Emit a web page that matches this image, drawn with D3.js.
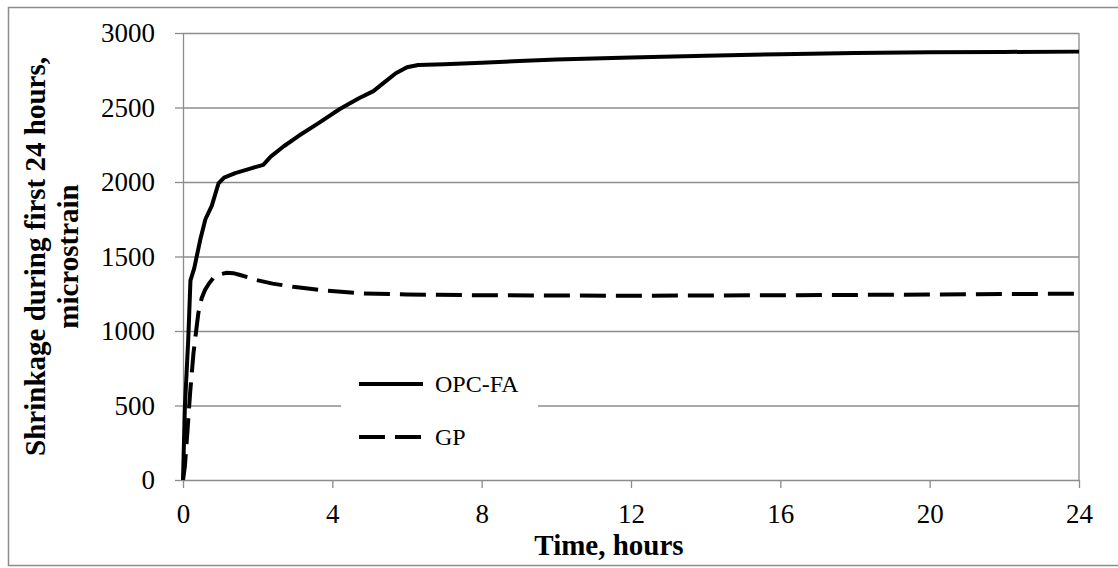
<!DOCTYPE html>
<meta charset="utf-8">
<html>
  <style>
    body, html{ margin: 0; background: #fff;}
    svg{ display: block; font-family: "Liberation Serif", "Times New Roman", serif;}
    .grid line{ stroke: #8c8c8c; stroke-width: 1.3;}
    .grid path{ display: none;}
    .axis path, .axis line{ stroke: #8c8c8c; stroke-width: 1.3;}
    .axis text{ font-family: "Liberation Serif", "Times New Roman", serif; font-size: 27px; fill: #000;}
    .title{ font-size: 29px; font-weight: bold; fill: #000;}
    .opc{ fill: none; stroke: #000; stroke-width: 4; stroke-linejoin: round;}
    .gp{ fill: none; stroke: #000; stroke-width: 4; stroke-dasharray: 26 10;}
    .legend text{ font-size: 24px; fill: #000;}
  </style>
  <body>
    <svg></svg>
    <script src="https://cdn.jsdelivr.net/npm/d3@7"></script>
    <script>
// values
var opcTime = [0, 0.05, 0.14, 0.2, 0.3, 0.46, 0.6, 0.77, 0.95, 1.1, 1.4, 1.8, 2.15, 2.35, 2.7, 3.1, 3.6,
               4.2, 4.7, 5.1, 5.4, 5.7, 6.0, 6.3, 7, 8, 9, 10, 12, 14, 16, 18, 20, 22, 24]
var opcShrink = [0, 490, 940, 1340, 1420, 1610, 1750, 1840, 1990, 2030, 2060, 2090, 2115, 2170, 2240, 2310, 2390,
                 2490, 2560, 2610, 2670, 2730, 2770, 2785, 2790, 2800, 2812, 2822, 2835, 2848, 2858, 2865, 2870, 2873, 2875]

var gpTime = [0, 0.05, 0.12, 0.19, 0.28, 0.41, 0.5, 0.59, 0.7, 0.81, 1.0, 1.17, 1.35, 1.53, 1.75, 1.97, 2.4,
              2.95, 3.4, 3.85, 4.74, 6, 8, 10, 12, 14, 16, 18, 20, 22, 24]
var gpShrink = [0, 90, 330, 583, 850, 1119, 1220, 1275, 1320, 1354, 1380, 1391, 1388, 1376, 1360, 1342, 1318,
                1297, 1283, 1271, 1253, 1245, 1240, 1238, 1237, 1238, 1240, 1242, 1245, 1248, 1250]

var xTicks = [0, 4, 8, 12, 16, 20, 24]
var yTicks = [0, 500, 1000, 1500, 2000, 2500, 3000]
var seriesNames = ['OPC-FA', 'GP']

var W = 1118, H = 568
  , pLeft = 183, pRight = 1079, pTop = 33, pBottom = 480
  , svg = d3.select('svg').attr('width', W).attr('height', H)

var x = d3.scaleLinear().domain([0, 24]).range([pLeft, pRight])
  , y = d3.scaleLinear().domain([0, 3000]).range([pBottom, pTop])

// outer frame
svg.append('rect')
  .attr('x', 8.5).attr('y', 7.5).attr('width', 1120).attr('height', 558)
  .attr('fill', 'none').attr('stroke', '#8c8c8c').attr('stroke-width', 1.5)

// horizontal gridlines
svg.append('g').attr('class', 'grid')
  .attr('transform', 'translate(' + pLeft + ',0)')
  .call(d3.axisLeft(y).tickValues(yTicks.slice(1)).tickSize(-(pRight - pLeft)).tickFormat(''))

// right border of the plot area
svg.append('line')
  .attr('x1', pRight).attr('x2', pRight).attr('y1', pTop).attr('y2', pBottom)
  .attr('stroke', '#8c8c8c').attr('stroke-width', 1.3)

svg.append('g').attr('class', 'axis')
  .attr('transform', 'translate(' + pLeft + ',0)')
  .call(d3.axisLeft(y).tickValues(yTicks).tickFormat(d3.format('d'))
    .tickSize(8).tickPadding(20).tickSizeOuter(0))

svg.append('g').attr('class', 'axis')
  .attr('transform', 'translate(0,' + pBottom + ')')
  .call(d3.axisBottom(x).tickValues(xTicks).tickFormat(d3.format('d'))
    .tickSize(8).tickPadding(16).tickSizeOuter(0))

var line = function(xs, ys){
  return d3.line().x(function(d, i){ return x(xs[i]) }).y(function(d, i){ return y(ys[i]) })(xs)
}

svg.append('path').attr('class', 'gp').attr('d', line(gpTime, gpShrink))
svg.append('path').attr('class', 'opc').attr('d', line(opcTime, opcShrink))

// legend
var legend = svg.append('g').attr('class', 'legend')
legend.append('rect').attr('x', 341).attr('y', 350).attr('width', 197).attr('height', 112).attr('fill', '#fff')
legend.append('line').attr('class', 'opc').attr('x1', 359).attr('x2', 423).attr('y1', 384).attr('y2', 384)
legend.append('line').attr('class', 'gp').attr('x1', 359).attr('x2', 423).attr('y1', 437).attr('y2', 437)
legend.selectAll('text').data(seriesNames).enter().append('text')
  .attr('x', 435).attr('y', function(d, i){ return i ? 437 : 384 }).attr('dy', '0.35em')
  .text(function(d){ return d })

// axis titles
svg.append('text').attr('class', 'title')
  .attr('x', 609).attr('y', 555).attr('text-anchor', 'middle').text('Time, hours')

var yTitle = svg.append('text').attr('class', 'title')
  .attr('transform', 'translate(45,' + ((pTop + pBottom) / 2) + ') rotate(-90)')
  .attr('text-anchor', 'middle')
yTitle.append('tspan').attr('x', 0).attr('y', 0).text('Shrinkage during first 24 hours,')
yTitle.append('tspan').attr('x', 0).attr('y', 33).text('microstrain')
    </script>
  </body>
</html>
